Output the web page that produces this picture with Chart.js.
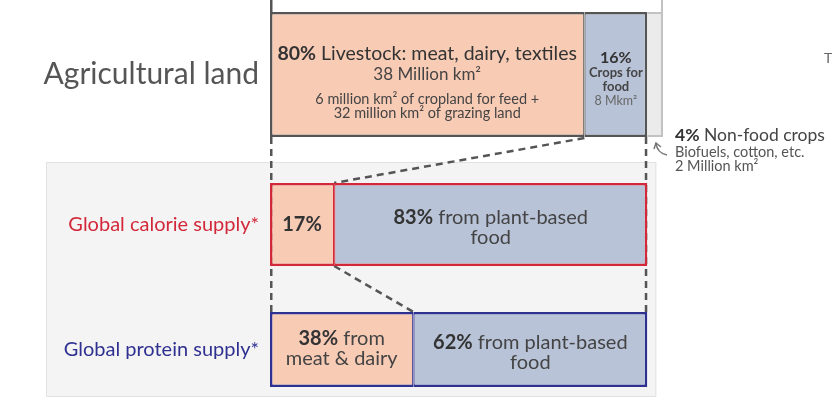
<!DOCTYPE html>
<html>
<head>
<meta charset="utf-8">
<script src="https://cdn.jsdelivr.net/npm/chart.js@4.4.1/dist/chart.umd.min.js"></script>
<style>
html,body{margin:0;padding:0;background:#fff;}
#wrap{width:834px;height:402px;position:relative;}
</style>
</head>
<body>
<div id="wrap"><canvas id="chart"></canvas></div>
<script>
const rowLabels = ['Agricultural land', 'Global calorie supply*', 'Global protein supply*'];
const landShares = [80, 16, 4];      // livestock, crops for food, non-food crops
const calorieShares = [17, 83];      // meat & dairy, plant-based
const proteinShares = [38, 62];      // meat & dairy, plant-based

// layout / style only
const rowPos = [0, 1.2, 2.2];
const rowThickness = [125, 83, 75];
const rowColors = ['#555555', '#d3283a', '#2f3191'];
const rowFonts = [30, 20, 20];
const segFill = ['#f8cbb5', '#b8c3d7', '#ebebeb'];
const FONT = 'Lato, "Open Sans", sans-serif';
const f = (size, weight) => `${weight || 'normal'} ${size}px ${FONT}`;

function segments(shares){
  let s = 0;
  return shares.map(v => { const seg = [s, s + v]; s += v; return seg; });
}

const datasets = [];
function addRow(r, shares, axis){
  const segs = segments(shares);
  segs.forEach((seg, i) => {
    const nonFood = r === 0 && i === 2;
    const first = i === 0, last = i === segs.length - 1;
    datasets.push({
      data: [{x: seg, y: rowPos[r]}],
      xAxisID: axis,
      stack: 'row',
      barThickness: rowThickness[r],
      backgroundColor: segFill[i],
      borderColor: nonFood ? '#c2c2c2' : rowColors[r],
      borderWidth: nonFood ? {left: 0, top: 2, right: 2, bottom: 2}
        : {left: first ? 2.5 : 1.25, right: (last || (r === 0 && i === 1)) ? 2.5 : 1.25, top: 2.5, bottom: 2.5},
      borderSkipped: false,
      inflateAmount: 0
    });
  });
}
addRow(0, landShares, 'x');
addRow(1, calorieShares, 'x2');
addRow(2, proteinShares, 'x2');

const landTotal = landShares.reduce((a, b) => a + b, 0);
const landForFood = landShares[0] + landShares[1];

function box(chart, di){
  const p = chart.getDatasetMeta(di).data[0].getProps(['x', 'y', 'base', 'height'], true);
  return {left: Math.min(p.x, p.base), right: Math.max(p.x, p.base),
          top: p.y - p.height / 2, bottom: p.y + p.height / 2,
          cx: (p.x + p.base) / 2, cy: p.y};
}

function rich(ctx, parts, x, y, align){
  let w = 0;
  parts.forEach(p => { ctx.font = p[1]; w += ctx.measureText(p[0]).width; });
  let cx = align === 'center' ? x - w / 2 : x;
  ctx.textAlign = 'left'; ctx.textBaseline = 'middle';
  parts.forEach(p => {
    ctx.font = p[1]; ctx.fillStyle = p[2];
    ctx.fillText(p[0], cx, y);
    cx += ctx.measureText(p[0]).width;
  });
}

function line(ctx, x1, y1, x2, y2){
  ctx.beginPath(); ctx.moveTo(x1, y1); ctx.lineTo(x2, y2); ctx.stroke();
}

const extras = {
  id: 'extras',
  beforeDraw(chart){
    const ctx = chart.ctx;
    const land = box(chart, 0), nonFood = box(chart, 2), cal = box(chart, 3), pro = box(chart, 6);
    ctx.save();
    // grey panel behind the supply rows
    const top = cal.top - 21, bottom = pro.bottom + 10, left = 46, right = pro.right + 9;
    ctx.fillStyle = '#f4f4f4';
    ctx.fillRect(left, top, right - left, bottom - top);
    ctx.strokeStyle = '#e2e2e2'; ctx.lineWidth = 1;
    ctx.strokeRect(left + 0.5, top + 0.5, right - left - 1, bottom - top - 1);
    // lines coming from above
    ctx.strokeStyle = '#555'; ctx.lineWidth = 2.5;
    line(ctx, land.left + 1.25, 0, land.left + 1.25, land.top);
    ctx.strokeStyle = '#c2c2c2'; ctx.lineWidth = 2;
    line(ctx, nonFood.right - 1, 0, nonFood.right - 1, land.top + 2);
    ctx.restore();
  },
  beforeDatasetsDraw(chart){
    const ctx = chart.ctx;
    const land = box(chart, 0), crops = box(chart, 1);
    const cal = box(chart, 3), pro = box(chart, 5);
    ctx.save();
    ctx.setLineDash([7, 5]); ctx.lineWidth = 2.5; ctx.strokeStyle = '#555';
    line(ctx, land.left + 1.25, land.bottom, land.left + 1.25, pro.top);
    line(ctx, crops.right - 1.25, land.bottom, crops.right - 1.25, pro.top);
    line(ctx, crops.left, land.bottom + 1, cal.right, cal.top);
    line(ctx, cal.right, cal.bottom, pro.right, pro.top);
    ctx.restore();
  },
  afterDatasetsDraw(chart){
    const ctx = chart.ctx;
    const dark = '#333', mid = '#444', light = '#666';
    const live = box(chart, 0), crops = box(chart, 1), nonFood = box(chart, 2);
    const calA = box(chart, 3), calP = box(chart, 4), proA = box(chart, 5), proP = box(chart, 6);
    ctx.save();
    // livestock
    rich(ctx, [[landShares[0] + '%', f(19.5, 'bold'), dark], [' Livestock: meat, dairy, textiles', f(19.5), dark]], live.cx, live.top + 42, 'center');
    rich(ctx, [['38 Million km²', f(17), mid]], live.cx, live.top + 63, 'center');
    rich(ctx, [['6 million km² of cropland for feed +', f(14.5), mid]], live.cx, live.top + 87, 'center');
    rich(ctx, [['32 million km² of grazing land', f(14.5), mid]], live.cx, live.top + 101, 'center');
    // crops for food
    rich(ctx, [[landShares[1] + '%', f(16, 'bold'), dark]], crops.cx, crops.top + 46, 'center');
    rich(ctx, [['Crops for', f(13, 'bold'), mid]], crops.cx, crops.top + 61, 'center');
    rich(ctx, [['food', f(13, 'bold'), mid]], crops.cx, crops.top + 75, 'center');
    rich(ctx, [['8 Mkm²', f(12.5), light]], crops.cx, crops.top + 89, 'center');
    // non-food annotation
    const ax = nonFood.right + 12, ay = nonFood.bottom;
    rich(ctx, [[landShares[2] + '%', f(17.5, 'bold'), dark], [' Non-food crops', f(17.5), mid]], ax, ay - 2, 'left');
    rich(ctx, [['Biofuels, cotton, etc.', f(14.5), '#555']], ax, ay + 15, 'left');
    rich(ctx, [['2 Million km²', f(14.5), '#555']], ax, ay + 29, 'left');
    // small arrow
    ctx.strokeStyle = '#777'; ctx.lineWidth = 1.5;
    const hx = nonFood.right - 7, hy = ay + 6;
    ctx.beginPath(); ctx.moveTo(nonFood.right + 4, ay + 18);
    ctx.quadraticCurveTo(hx + 1, ay + 16, hx, hy); ctx.stroke();
    ctx.beginPath(); ctx.moveTo(hx - 2, hy + 6); ctx.lineTo(hx, hy); ctx.lineTo(hx + 5, hy + 4); ctx.stroke();
    // calorie supply
    rich(ctx, [[calorieShares[0] + '%', f(20, 'bold'), dark]], calA.cx, calA.cy, 'center');
    rich(ctx, [[calorieShares[1] + '%', f(20, 'bold'), dark], [' from plant-based', f(20), mid]], calP.cx, calP.cy - 6.5, 'center');
    rich(ctx, [['food', f(20), mid]], calP.cx, calP.cy + 13.5, 'center');
    // protein supply
    rich(ctx, [[proteinShares[0] + '%', f(20, 'bold'), dark], [' from', f(20), mid]], proA.cx, proA.cy - 11, 'center');
    rich(ctx, [['meat & dairy', f(20), mid]], proA.cx, proA.cy + 9, 'center');
    rich(ctx, [[proteinShares[1] + '%', f(20, 'bold'), dark], [' from plant-based', f(20), mid]], proP.cx, proP.cy - 6.5, 'center');
    rich(ctx, [['food', f(20), mid]], proP.cx, proP.cy + 13.5, 'center');
    // cut-off text at the right edge
    rich(ctx, [['T', f(14), light]], chart.width - 10, 58, 'left');
    ctx.restore();
  }
};

new Chart(document.getElementById('chart'), {
  type: 'bar',
  data: {datasets},
  options: {
    indexAxis: 'y',
    responsive: true,
    maintainAspectRatio: false,
    animation: false,
    layout: {autoPadding: false, padding: {left: 0, right: 171, top: 0, bottom: 0}},
    plugins: {legend: {display: false}, tooltip: {enabled: false}},
    scales: {
      x: {type: 'linear', display: false, stacked: false, min: 0, max: landTotal},
      x2: {type: 'linear', display: false, stacked: false, min: 0, max: 100 * landTotal / landForFood},
      y: {
        type: 'linear', reverse: true, offset: false, min: -0.596, max: 2.62,
        grid: {display: false, drawTicks: false},
        border: {display: false},
        afterBuildTicks: s => { s.ticks = rowPos.map(v => ({value: v})); },
        afterFit: s => { s.width = 270; s.paddingTop = 0; s.paddingBottom = 0; },
        ticks: {
          autoSkip: false,
          padding: 11,
          callback: (v, i) => rowLabels[i],
          color: c => rowColors[c.index],
          font: c => ({family: FONT, size: rowFonts[c.index]})
        }
      }
    }
  },
  plugins: [extras]
});
</script>
</body>
</html>
